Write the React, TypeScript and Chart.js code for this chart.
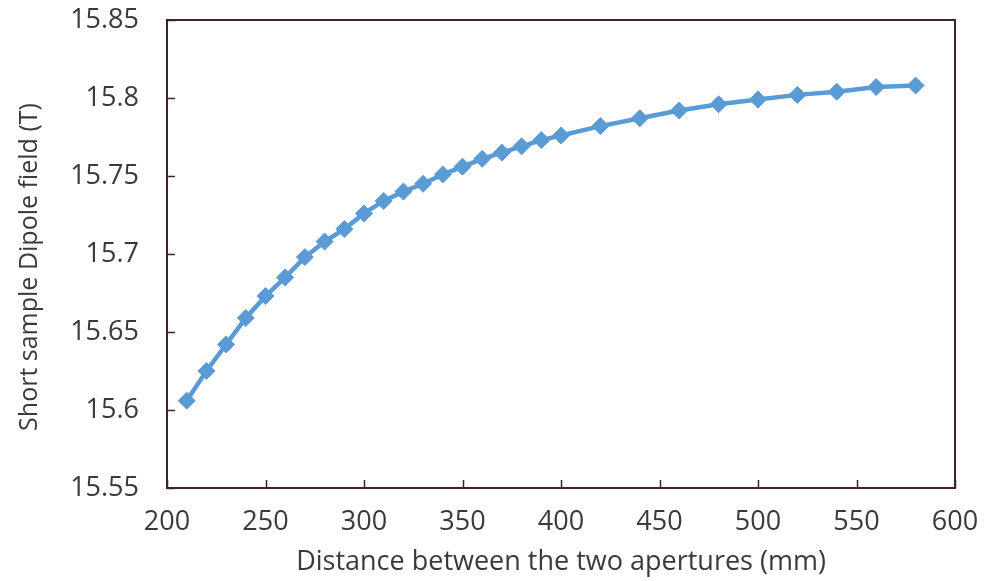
import React, { useEffect, useRef } from "react";
import { Chart, registerables } from "chart.js";

Chart.register(...registerables);

const distances = [210, 220, 230, 240, 250, 260, 270, 280, 290, 300, 310, 320, 330, 340, 350, 360, 370, 380, 390, 400, 420, 440, 460, 480, 500, 520, 540, 560, 580];
const fieldValues = [15.606, 15.625, 15.642, 15.659, 15.673, 15.685, 15.698, 15.708, 15.716, 15.726, 15.734, 15.740, 15.745, 15.751, 15.756, 15.761, 15.765, 15.769, 15.773, 15.776, 15.782, 15.787, 15.792, 15.796, 15.799, 15.802, 15.804, 15.807, 15.808];
const xTitle = "Distance between the two apertures (mm)";
const yTitle = "Short sample Dipole field (T)    ";

const AXIS_COLOR = "#3f1f3a";
const TEXT_COLOR = "#3a3a3a";
const LINE_COLOR = "#5B9BD5";
const FONT = "'Open Sans', sans-serif";

const frame = {
  id: "frame",
  afterDraw(chart: any) {
    const { ctx, chartArea: a, scales } = chart;
    ctx.save();
    ctx.strokeStyle = AXIS_COLOR;
    ctx.lineWidth = 2;
    ctx.strokeRect(a.left, a.top, a.right - a.left, a.bottom - a.top);
    ctx.beginPath();
    const tl = 8;
    scales.x.ticks.forEach((t: any) => {
      const px = Math.round(scales.x.getPixelForValue(t.value)) + 0.5;
      ctx.moveTo(px, a.bottom);
      ctx.lineTo(px, a.bottom - tl);
    });
    scales.y.ticks.forEach((t: any) => {
      const py = Math.round(scales.y.getPixelForValue(t.value)) + 0.5;
      ctx.moveTo(a.left, py);
      ctx.lineTo(a.left + tl, py);
    });
    ctx.lineWidth = 1.5;
    ctx.stroke();
    ctx.restore();
  },
};

export default function App() {
  const ref = useRef<HTMLCanvasElement>(null);
  useEffect(() => {
    const chart = new Chart(ref.current!, {
      type: "line",
      data: {
        datasets: [
          {
            data: distances.map((d, i) => ({ x: d, y: fieldValues[i] })),
            borderColor: LINE_COLOR,
            backgroundColor: LINE_COLOR,
            borderWidth: 4.5,
            pointStyle: "rectRot",
            pointRadius: 8.5,
            pointBorderWidth: 1,
            pointBackgroundColor: LINE_COLOR,
            pointBorderColor: LINE_COLOR,
            tension: 0,
          },
        ],
      },
      options: {
        responsive: false,
        animation: false,
        layout: { padding: { top: 20, right: 43, left: 0, bottom: 0 } },
        plugins: { legend: { display: false }, tooltip: { enabled: false } },
        scales: {
          x: {
            type: "linear",
            min: 200,
            max: 600,
            ticks: { stepSize: 50, color: TEXT_COLOR, font: { family: FONT, size: 27 }, padding: 18 },
            grid: { display: false, drawTicks: false },
            border: { display: false },
            title: { display: true, text: xTitle, color: TEXT_COLOR, font: { family: FONT, size: 27 }, padding: { top: 0, bottom: 2 } },
            afterFit: (s: any) => { s.height = 93; s.paddingLeft = 0; s.paddingRight = 0; },
          },
          y: {
            type: "linear",
            min: 15.55,
            max: 15.85,
            ticks: { stepSize: 0.05, color: TEXT_COLOR, font: { family: FONT, size: 27 }, padding: 28, callback: (v: any) => String(Math.round(v * 100) / 100) },
            grid: { display: false, drawTicks: false },
            border: { display: false },
            title: { display: true, text: yTitle, color: TEXT_COLOR, font: { family: FONT, size: 25 }, padding: { top: 15, bottom: 0 } },
            afterFit: (s: any) => { s.width = 167; s.paddingTop = 0; s.paddingBottom = 0; },
          },
        },
      },
      plugins: [frame],
    });
    return () => chart.destroy();
  }, []);
  return (
    <div style={{ position: "fixed", left: 0, top: 0, width: 998, height: 581, background: "#fff" }}>
      <canvas ref={ref} width={998} height={581} style={{ display: "block" }} />
    </div>
  );
}
